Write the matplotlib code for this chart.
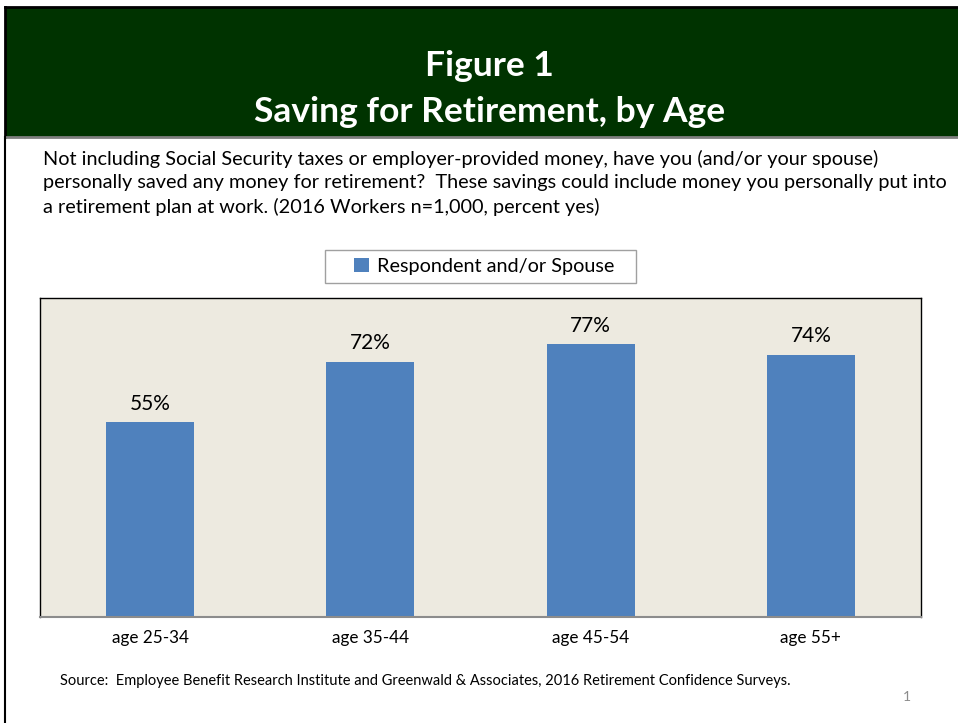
import matplotlib.pyplot as plt
from matplotlib.patches import Rectangle

plt.rcParams['font.family'] = ['Lato', 'DejaVu Sans']

# chart data
ages = ['age 25-34', 'age 35-44', 'age 45-54', 'age 55+']
pct_yes = [55, 72, 77, 74]
series_name = 'Respondent and/or Spouse'

W, H = 958, 723
fig = plt.figure(figsize=(W / 100, H / 100), dpi=100)
fig.patch.set_facecolor('white')


def box(x0, y0, x1, y1):
    """pixel coords (top-left origin) -> figure fractions"""
    return [x0 / W, 1 - y1 / H, (x1 - x0) / W, (y1 - y0) / H]


# header band
hdr = fig.add_axes(box(5, 7, 960, 137))
hdr.set_facecolor('#003300')
hdr.set_xticks([])
hdr.set_yticks([])
for s in hdr.spines.values():
    s.set_color('black')
    s.set_linewidth(2)
hdr.spines['bottom'].set_color('#7f7f7f')
hdr.text(0.507, 0.55, 'Figure 1', color='white', fontsize=25.5, fontweight='bold',
         ha='center', va='center', transform=hdr.transAxes)
hdr.text(0.507, 0.19, 'Saving for Retirement, by Age', color='white', fontsize=25.5,
         fontweight='bold', ha='center', va='center', transform=hdr.transAxes)

# left page border
fig.add_artist(plt.Line2D([5 / W, 5 / W], [0, 1 - 137 / H], color='black', lw=1.5))

question = ('Not including Social Security taxes or employer-provided money, have you (and/or your spouse)\n'
            'personally saved any money for retirement?  These savings could include money you personally put into\n'
            'a retirement plan at work. (2016 Workers n=1,000, percent yes)')
fig.text(43 / W, 1 - 150 / H, question, fontsize=14.3, va='top', ha='left',
         linespacing=1.43, color='black')

# plot area
ax = fig.add_axes(box(40, 298, 921, 617))
ax.set_facecolor('#EDEAE0')
bars = ax.bar(range(len(ages)), pct_yes, width=0.4, color='#4F81BD', label=series_name)
ax.set_xlim(-0.5, len(ages) - 0.5)
ax.set_ylim(0, 90)
ax.set_yticks([])
ax.set_xticks(range(len(ages)))
ax.set_xticklabels(ages, fontsize=12.3)
ax.tick_params(axis='x', length=0, pad=9)
for s in ax.spines.values():
    s.set_color('black')
    s.set_linewidth(1)
ax.spines['bottom'].set_color('#8c8c8c')
ax.spines['bottom'].set_linewidth(1.5)
for i, v in enumerate(pct_yes):
    ax.annotate(f'{v}%', (i, v), xytext=(0, 6), textcoords='offset points',
                ha='center', va='bottom', fontsize=15)

# legend with a wide frame drawn separately
x0, y0, x1, y1 = box(325, 250, 636, 283)[0], box(325, 250, 636, 283)[1], 0, 0
frame = box(325, 250, 636, 283)
fig.add_artist(Rectangle((frame[0], frame[1]), frame[2], frame[3], transform=fig.transFigure,
                         facecolor='white', edgecolor='#a0a0a0', lw=1))
fig.legend(handles=[bars], labels=[series_name], loc='center',
           bbox_to_anchor=(484 / W, 1 - 266.5 / H), fontsize=14.3,
           frameon=False, handlelength=0.75, handleheight=0.75,
           handletextpad=0.4, borderpad=0.4, borderaxespad=0)

fig.text(60 / W, 1 - 681 / H,
         'Source:  Employee Benefit Research Institute and Greenwald & Associates, 2016 Retirement Confidence Surveys.',
         fontsize=10.5, va='center', ha='left')
fig.text(907 / W, 1 - 697 / H, '1', fontsize=10, color='#8c8c8c', ha='center', va='center')

fig.savefig('out.png', dpi=100)
